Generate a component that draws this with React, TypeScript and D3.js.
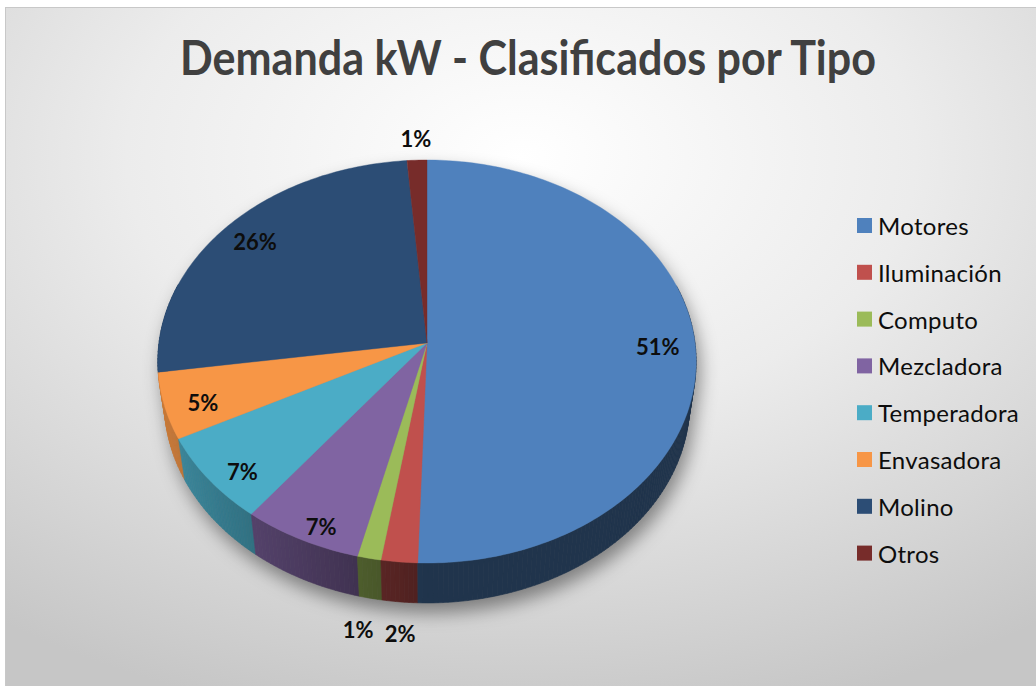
import React from "react";
import * as d3 from "d3";

// Demanda kW por tipo (porcentaje)
const categories = [
  "Motores",
  "Iluminación",
  "Computo",
  "Mezcladora",
  "Temperadora",
  "Envasadora",
  "Molino",
  "Otros",
];
const values = [50.5, 2.0, 1.3, 6.6, 7.0, 5.3, 26.0, 1.3];
const colors = [
  "#4F81BD",
  "#C0504D",
  "#9BBB59",
  "#8064A2",
  "#4BACC6",
  "#F79646",
  "#2C4D75",
  "#772C2A",
];

const W = 1036;
const H = 686;
const FONT = "Lato, 'Open Sans', sans-serif";

// simple perspective camera for the tilted pie (radius = 1)
const cx = 427;
const cy = 343;
const D = 7.25;
const F = 1943;
const sinA = 0.7455;
const cosA = 0.666;
const depth = 0.239;

function project(u: number, v: number, y: number): [number, number] {
  const sy = v * sinA - y * cosA;
  const z = D - v * cosA - y * sinA;
  return [cx + (F * u) / z, cy + (F * sy) / z];
}

// angle measured clockwise from 12 o'clock
function rim(theta: number, r: number, y: number) {
  return project(r * Math.sin(theta), -r * Math.cos(theta), y);
}

export default function App() {
  const pie = d3
    .pie<number>()
    .sort(null)
    .value((d) => d)
    .startAngle(0)
    .endAngle(2 * Math.PI);
  const arcs = pie(values);
  const total = d3.sum(values);
  const line = d3.line();

  // top faces
  const tops = arcs.map((a, i) => {
    const n = Math.max(2, Math.ceil(((a.endAngle - a.startAngle) * 180) / Math.PI));
    const pts: [number, number][] = [project(0, 0, 0)];
    d3.range(n + 1).forEach((k) => {
      const t = a.startAngle + ((a.endAngle - a.startAngle) * k) / n;
      pts.push(rim(t, 1, 0));
    });
    return { d: line(pts) + "Z", fill: colors[i] };
  });

  // outer walls, painted back to front
  const walls: { d: string; fill: string; v: number }[] = [];
  arcs.forEach((a, i) => {
    const n = Math.max(2, Math.ceil(((a.endAngle - a.startAngle) * 180) / Math.PI));
    for (let k = 0; k < n; k++) {
      const t0 = a.startAngle + ((a.endAngle - a.startAngle) * k) / n;
      const t1 = a.startAngle + ((a.endAngle - a.startAngle) * (k + 1)) / n;
      const tm = (t0 + t1) / 2;
      const v = -Math.cos(tm);
      if (v < -0.3) continue;
      const shade = 0.4 + 0.42 * Math.max(0, -Math.sin(tm));
      const c = d3.rgb(colors[i]);
      const fill = d3.rgb(c.r * shade, c.g * shade, c.b * shade).formatHex();
      const pts = [rim(t0, 1, 0), rim(t1, 1, 0), rim(t1, 1, -depth), rim(t0, 1, -depth)];
      walls.push({ d: line(pts) + "Z", fill, v });
    }
  });
  walls.sort((p, q) => p.v - q.v);

  // silhouette for the drop shadow
  const silPts: [number, number][] = [];
  d3.range(0, 360, 2).forEach((deg) => {
    const t = (deg * Math.PI) / 180;
    silPts.push(rim(t, 1, 0));
    silPts.push(rim(t, 1, -depth));
  });
  const hull = d3.polygonHull(silPts) || [];
  const shadowPath = line(hull) + "Z";

  // data labels
  const labels = arcs.map((a, i) => {
    const pct = (a.value / total) * 100;
    const mid = (a.startAngle + a.endAngle) / 2;
    const v = -Math.cos(mid);
    let p: [number, number];
    const outside = pct < 3;
    if (outside) {
      p = v > 0 ? rim(mid, 1.13, -depth) : rim(mid, 1.13, 0);
    } else {
      p = rim(mid, 0.86, -depth * 0.45 * Math.max(0, v));
    }
    return { x: p[0], y: p[1], text: Math.round(pct) + "%", outside, front: v > 0 };
  });
  // keep the small outside labels at the front from overlapping
  const frontOut = labels.filter((l) => l.outside && l.front).sort((p, q) => p.x - q.x);
  for (let k = 1; k < frontOut.length; k++) {
    const gap = frontOut[k].x - frontOut[k - 1].x;
    if (gap < 42) {
      const push = (42 - gap) / 2;
      frontOut[k - 1].x -= push;
      frontOut[k].x += push;
    }
  }

  const legendX = 857;
  const legendY = 218;
  const legendStep = 46.8;

  return (
    <svg
      width={W}
      height={H}
      style={{ position: "absolute", left: 0, top: 0, background: "#fff" }}
    >
      <defs>
        <radialGradient id="bg" cx="0.5" cy="0.22" r="0.85" fx="0.5" fy="0.22">
          <stop offset="0" stopColor="#ffffff" />
          <stop offset="0.45" stopColor="#ececec" />
          <stop offset="1" stopColor="#c6c6c6" />
        </radialGradient>
        <filter id="blur" x="-20%" y="-20%" width="140%" height="140%">
          <feGaussianBlur stdDeviation="9" />
        </filter>
      </defs>

      <rect x={5.5} y={7.5} width={W - 5} height={H - 7} fill="url(#bg)" stroke="#c8c8c8" />

      <text
        x={528}
        y={75}
        textAnchor="middle"
        fontFamily={FONT}
        fontWeight="bold"
        fontSize={48}
        fill="#404040"
        textLength={696}
        lengthAdjust="spacingAndGlyphs"
      >
        Demanda kW - Clasificados por Tipo
      </text>

      <path d={shadowPath} transform="translate(4,10)" fill="rgba(0,0,0,0.42)" filter="url(#blur)" />

      {walls.map((w, i) => (
        <path key={"w" + i} d={w.d} fill={w.fill} stroke={w.fill} strokeWidth={0.6} />
      ))}
      {tops.map((t, i) => (
        <path key={"t" + i} d={t.d} fill={t.fill} stroke={t.fill} strokeWidth={0.4} />
      ))}

      {labels.map((l, i) => (
        <text
          key={"l" + i}
          x={l.x}
          y={l.y}
          textAnchor="middle"
          dominantBaseline="central"
          fontFamily={FONT}
          fontWeight="bold"
          fontSize={22}
          fill="#0d0d0d"
        >
          {l.text}
        </text>
      ))}

      {categories.map((c, i) => (
        <g key={"g" + i} transform={`translate(${legendX},${legendY + i * legendStep})`}>
          <rect width={15} height={15} fill={colors[i]} />
          <text
            x={21}
            y={7.5}
            dominantBaseline="central"
            fontFamily={FONT}
            fontSize={24}
            letterSpacing={0.3}
            fill="#0d0d0d"
          >
            {c}
          </text>
        </g>
      ))}
    </svg>
  );
}
